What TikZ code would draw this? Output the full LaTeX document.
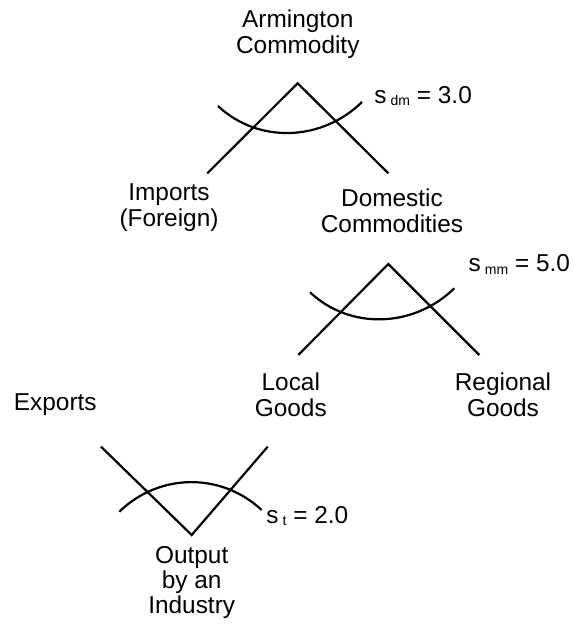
\documentclass[tikz,border=0pt]{standalone}
\usepackage{fontspec}
\setmainfont{Liberation Sans}

\newcommand{\elsub}[1]{\,\raisebox{-1.3pt}{\fontsize{7}{7}\selectfont #1}}

\tikzset{
	goods/.style={align=center, inner sep=0pt, anchor=base, font=\fontsize{12.2}{13}\selectfont},
	elast/.style={inner sep=0pt, anchor=base west, font=\fontsize{12.2}{13}\selectfont},
	nest/.style={line width=1.1pt}
}

\begin{document}
\begin{tikzpicture}[x=.5pt,y=-.5pt]
		\useasboundingbox (0,0) rectangle (573,632);
		
		\node[goods] (armington) at (297.8,53) {Armington\\Commodity};
		\node[goods] (imports) at (169,226.7) {Imports\\(Foreign)};
		\node[goods] (domestic) at (392,232) {Domestic\\Commodities};
		
		\coordinate (dmtop) at (297.7,83.3);
		\coordinate (dmleft) at (207.3,173.3);
		\coordinate (dmright) at (388.3,173.3);
		\draw[nest] (dmleft) -- (dmtop) -- (dmright);
		\draw[nest] (218,106) .. controls (258.8,144.2) and (322.3,141.1) .. (362,102);
		\node[elast] (sdm) at (374,103) {s\elsub{dm} = 3.0};
		
		
		\node[goods] (local) at (290.8,416.7) {Local\\Goods};
		\node[goods] (regional) at (503,416.7) {Regional\\Goods};
		
		\coordinate (mmtop) at (388.3,264);
		\coordinate (mmleft) at (298.3,355);
		\coordinate (mmright) at (479.3,355);
		\draw[nest] (mmleft) -- (mmtop) -- (mmright);
		\draw[nest] (310,292.3) .. controls (350.8,330.5) and (414.3,327.4) .. (454.3,288.3);
		\node[elast] (smm) at (468.3,271.7) {s\elsub{mm} = 5.0};
		
		
		\node[goods] (exports) at (55.3,410) {Exports};
		\node[goods, font=\fontsize{12.2}{11.3}\selectfont] (output) at (191.7,613) {Output\\by an\\Industry};
		
		\coordinate (tbottom) at (191.7,535);
		\coordinate (tleft) at (101,446.7);
		\coordinate (tright) at (267.7,446.7);
		\draw[nest] (tleft) -- (tbottom) -- (tright);
		\draw[nest] (119.3,511.7) .. controls (159.3,473) and (220.9,472.1) .. (261.7,510);
		\node[elast] (st) at (266,523.3) {s\elsub{t} = 2.0};
		
	\end{tikzpicture}
\end{document}
